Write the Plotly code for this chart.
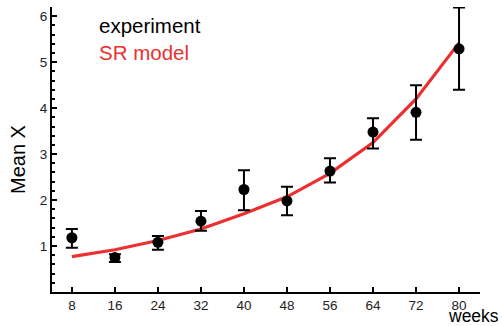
import plotly.graph_objects as go

weeks = [8, 16, 24, 32, 40, 48, 56, 64, 72, 80]
exp_mean = [1.18, 0.75, 1.08, 1.54, 2.23, 1.98, 2.63, 3.48, 3.91, 5.29]
exp_upper = [1.37, 0.82, 1.22, 1.76, 2.65, 2.29, 2.91, 3.78, 4.50, 6.19]
exp_lower = [0.96, 0.65, 0.92, 1.33, 1.78, 1.67, 2.38, 3.12, 3.31, 4.40]
model_weeks = [8, 16, 24, 32, 40, 48, 56, 64, 72, 80]
model_vals = [0.77, 0.92, 1.12, 1.37, 1.70, 2.07, 2.58, 3.25, 4.20, 5.42]

err_plus = [u - m for u, m in zip(exp_upper, exp_mean)]
err_minus = [m - l for m, l in zip(exp_mean, exp_lower)]

red = "#ec2f2f"
font = "Liberation Sans, Arial, Helvetica, sans-serif"

fig = go.Figure()
fig.add_trace(go.Scatter(
    x=model_weeks, y=model_vals, mode="lines",
    line=dict(color=red, width=3.2), showlegend=False, hoverinfo="skip"))
fig.add_trace(go.Scatter(
    x=weeks, y=exp_mean, mode="markers",
    marker=dict(color="black", size=11),
    error_y=dict(type="data", array=err_plus, arrayminus=err_minus,
                 color="black", thickness=2, width=6, symmetric=False),
    showlegend=False))


def px_to_paper_x(px):
    return (px - 52) / 428.0


def px_to_paper_y(py):
    return (292 - py) / 285.0


fig.update_layout(
    width=502, height=326,
    margin=dict(l=52, r=22, t=7, b=34),
    plot_bgcolor="white", paper_bgcolor="white",
    font=dict(family=font, color="#222222", size=13),
    xaxis=dict(range=[4.3, 83.9], tickvals=weeks, ticks="inside", ticklen=5,
               tickwidth=2, tickcolor="black", showline=True, linecolor="black",
               linewidth=2, showgrid=False, zeroline=False,
               tickfont=dict(size=13.5, color="#222222")),
    yaxis=dict(range=[0, 6.2], tickvals=[1, 2, 3, 4, 5, 6], ticks="inside",
               ticklen=5, tickwidth=2, tickcolor="black", showline=True,
               linecolor="black", linewidth=2, showgrid=False, zeroline=False,
               tickfont=dict(size=13.5, color="#222222"),
               minor=dict(ticks="inside", tick0=0, dtick=0.2, ticklen=3,
                          tickwidth=1.5, tickcolor="black", showgrid=False)),
    annotations=[
        dict(text="experiment", xref="paper", yref="paper",
             x=px_to_paper_x(97), y=px_to_paper_y(26), xanchor="left", yanchor="middle",
             showarrow=False, font=dict(size=20.5, color="black", family=font)),
        dict(text="SR model", xref="paper", yref="paper",
             x=px_to_paper_x(97), y=px_to_paper_y(53), xanchor="left", yanchor="middle",
             showarrow=False, font=dict(size=20.5, color=red, family=font)),
        dict(text="Mean X", xref="paper", yref="paper",
             x=px_to_paper_x(18), y=px_to_paper_y(160), xanchor="center", yanchor="middle",
             showarrow=False, textangle=-90,
             font=dict(size=20, color="black", family=font)),
        dict(text="weeks", xref="paper", yref="paper",
             x=px_to_paper_x(501), y=px_to_paper_y(316), xanchor="right", yanchor="middle",
             showarrow=False, font=dict(size=17.5, color="black", family=font)),
    ],
)

fig.write_html("out.html")
